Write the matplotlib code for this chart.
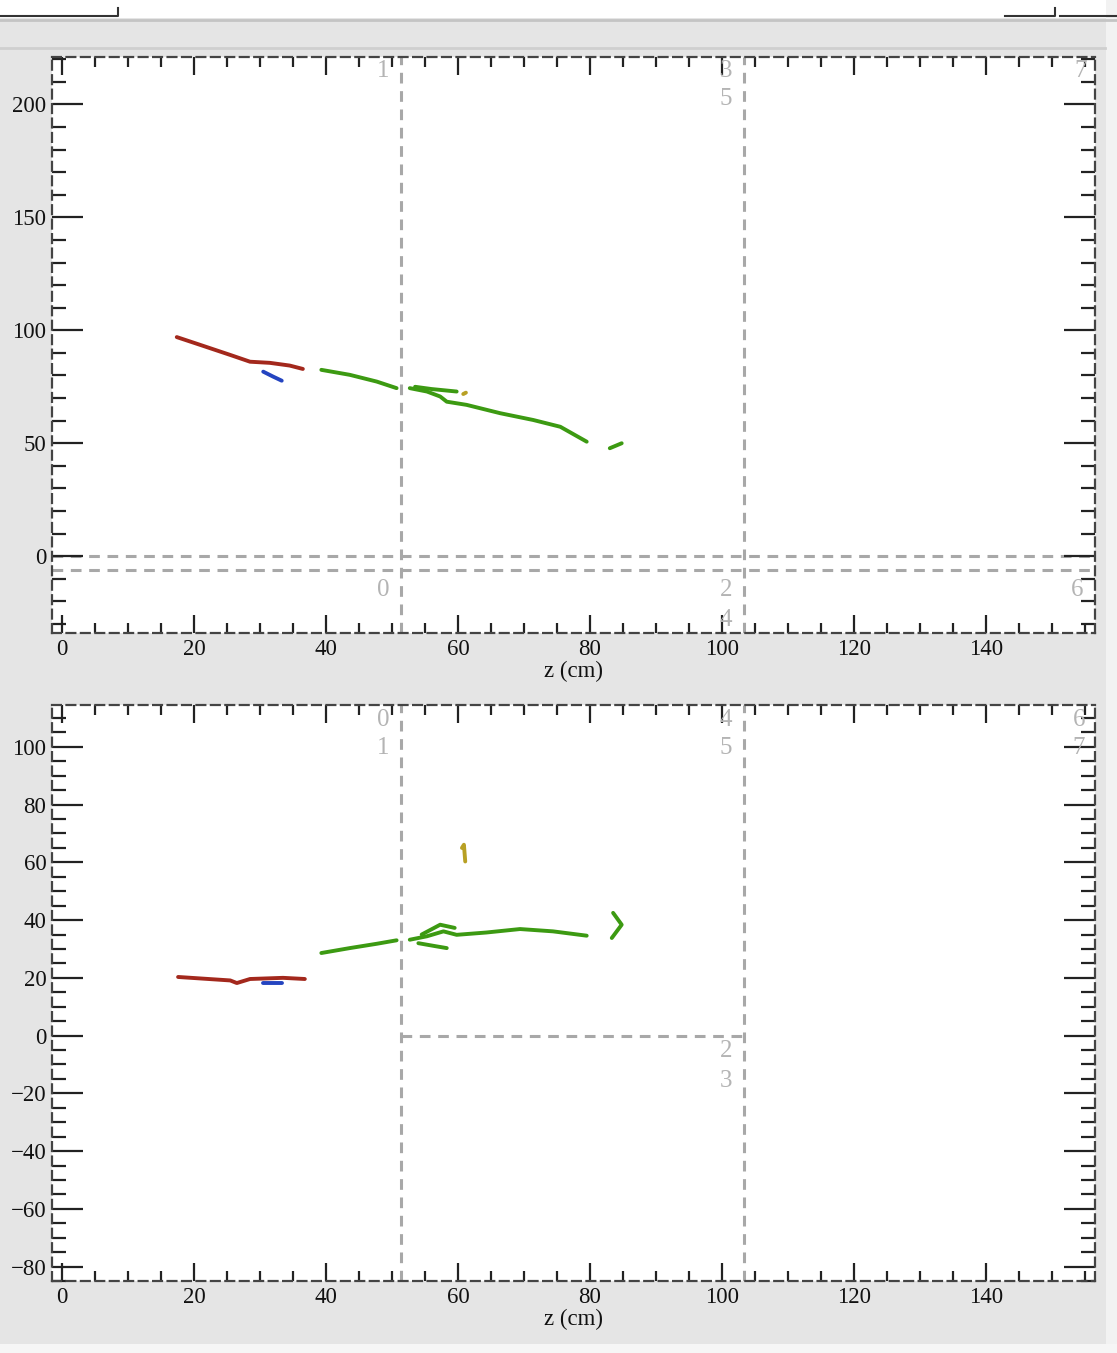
import matplotlib.pyplot as plt
from matplotlib.ticker import MultipleLocator
from matplotlib.patches import Rectangle

# ---- track data read from the display (z in cm) ----
# top view
top_red_z = [17.4, 20.9, 25.5, 28.5, 31.5, 34.5, 36.5]
top_red_y = [97.0, 93.6, 89.1, 86.1, 85.6, 84.4, 82.9]
top_blue_z = [30.5, 32.0, 33.3]
top_blue_y = [81.7, 79.5, 77.7]
top_green_a_z = [39.3, 43.6, 47.7, 50.7]
top_green_a_y = [82.5, 80.3, 77.3, 74.4]
top_green_b_z = [52.7, 55.3, 57.3, 58.3, 61.3, 66.4, 71.4, 75.5, 79.5]
top_green_b_y = [74.4, 72.9, 70.7, 68.4, 67.0, 63.3, 60.3, 57.3, 50.7]
top_green_br_z = [53.5, 56.0, 59.8]
top_green_br_y = [75.0, 74.0, 72.9]
top_green_c_z = [83.0, 84.8]
top_green_c_y = [47.8, 50.0]
top_yellow_z = [60.8, 61.2]
top_yellow_y = [71.8, 72.4]

# side view
bot_red_z = [17.6, 25.5, 26.5, 28.5, 33.5, 36.8]
bot_red_y = [20.3, 19.1, 18.2, 19.6, 20.0, 19.6]
bot_blue_z = [30.5, 33.3]
bot_blue_y = [18.2, 18.2]
bot_green_a_z = [39.3, 43.6, 47.7, 50.7]
bot_green_a_y = [28.6, 30.3, 31.8, 33.0]
bot_green_b_z = [52.7, 55.3, 57.8, 59.8, 64.3, 69.4, 74.4, 79.5]
bot_green_b_y = [33.2, 34.4, 36.1, 34.9, 35.7, 36.9, 36.1, 34.6]
bot_green_br1_z = [54.0, 56.5, 58.3]
bot_green_br1_y = [32.0, 31.0, 30.3]
bot_green_br2_z = [54.5, 57.3, 59.5]
bot_green_br2_y = [35.0, 38.4, 37.3]
bot_green_c_z = [83.5, 84.8, 83.3]
bot_green_c_y = [42.5, 38.4, 33.8]
bot_yellow_z = [60.6, 60.9, 61.1]
bot_yellow_y = [65.0, 66.1, 60.3]

# module boundaries and labels
mod_z = [51.4, 103.3]
top_hlines = [0, -6.2]
top_mod_labels = [('1', 49.6, 214.6), ('3', 101.5, 214.6), ('5', 101.5, 202.2),
                  ('7', 155.2, 214.6), ('0', 49.6, -15.0), ('2', 101.5, -15.0),
                  ('4', 101.5, -28.4), ('6', 154.8, -15.0)]
bot_mod_labels = [('0', 49.6, 109.3), ('1', 49.6, 99.7), ('4', 101.5, 109.3),
                  ('5', 101.5, 99.7), ('6', 155.0, 109.3), ('7', 155.0, 99.7),
                  ('2', 101.5, -5.5), ('3', 101.5, -15.9)]

RED = '#a3281c'
BLUE = '#2444c0'
GREEN = '#3c9a12'
YELLOW = '#b8a024'
GUIDE = '#a8a8a8'

plt.rcParams['font.family'] = ['Liberation Serif', 'DejaVu Serif']

fig = plt.figure(figsize=(11.17, 13.53), dpi=100, facecolor='#e5e5e5')

# window chrome
fig.patches.append(Rectangle((0, 1 - 18 / 1353), 1, 18 / 1353, transform=fig.transFigure,
                             facecolor='white', edgecolor='none', zorder=0))
fig.add_artist(plt.Line2D([0, 1], [1 - 20 / 1353] * 2, transform=fig.transFigure,
                          color='#c4c4c4', lw=2))
fig.add_artist(plt.Line2D([0, 1105 / 1117], [1 - 48 / 1353] * 2, transform=fig.transFigure,
                          color='#cfcfcf', lw=2))
fig.add_artist(plt.Line2D([0, 0.0, 118 / 1117, 118 / 1117], [1 - 16 / 1353] * 3 + [1 - 8 / 1353],
                          transform=fig.transFigure, color='#333333', lw=1.5))
fig.add_artist(plt.Line2D([1005 / 1117, 1055 / 1117, 1055 / 1117], [1 - 16 / 1353] * 2 + [1 - 8 / 1353],
                          transform=fig.transFigure, color='#333333', lw=1.5))
fig.add_artist(plt.Line2D([1060 / 1117, 1117 / 1117], [1 - 16 / 1353] * 2,
                          transform=fig.transFigure, color='#333333', lw=1.5))
fig.patches.append(Rectangle((1106 / 1117, 0), 11 / 1117, 1, transform=fig.transFigure,
                             facecolor='#f2f2f2', edgecolor='none', zorder=0))
fig.patches.append(Rectangle((0, 0), 1, 9 / 1353, transform=fig.transFigure,
                             facecolor='#f6f6f6', edgecolor='none', zorder=0))

ax1 = fig.add_axes([52 / 1117, 1 - 633 / 1353, 1043 / 1117, 576 / 1353])
ax2 = fig.add_axes([52 / 1117, 1 - 1281 / 1353, 1043 / 1117, 576 / 1353])


def style(ax, ylim, ymajor, yminor):
    ax.set_xlim(-1.5, 156.5)
    ax.set_ylim(*ylim)
    ax.xaxis.set_major_locator(MultipleLocator(20))
    ax.xaxis.set_minor_locator(MultipleLocator(5))
    ax.yaxis.set_major_locator(MultipleLocator(ymajor))
    ax.yaxis.set_minor_locator(MultipleLocator(yminor))
    ax.tick_params(axis='both', which='both', direction='in', top=True, right=True,
                   color='#222222', width=1.6, labelsize=16.5, labelcolor='#111111')
    ax.tick_params(axis='x', which='major', length=13, pad=4)
    ax.tick_params(axis='x', which='minor', length=7)
    ax.tick_params(axis='y', which='major', length=22, pad=4)
    ax.tick_params(axis='y', which='minor', length=10)
    for s in ax.spines.values():
        s.set_linestyle((0, (4, 2.5)))
        s.set_color('#444444')
        s.set_linewidth(1.6)
    ax.set_xlabel('z (cm)', fontsize=16.5, color='#111111', labelpad=1)


def guide_v(ax, z):
    lo, hi = ax.get_ylim()
    ax.plot([z, z], [lo, hi], color=GUIDE, lw=2.2, ls=(0, (3.5, 2.5)), zorder=1)


def track(ax, z, y, c):
    ax.plot(z, y, color=c, lw=2.8, solid_capstyle='round', zorder=3)


style(ax1, (-34, 221), 50, 10)
style(ax2, (-85, 114.5), 20, 5)

# top panel guides
for z in mod_z:
    guide_v(ax1, z)
for y in top_hlines:
    ax1.plot([-1.5, 156.5], [y, y], color=GUIDE, lw=2.2, ls=(0, (3.5, 2.5)), zorder=1)
for t, z, y in top_mod_labels:
    ax1.text(z, y, t, ha='right', va='center', fontsize=18, color='#b4b4b4')

# bottom panel guides
for z in mod_z:
    guide_v(ax2, z)
ax2.plot([mod_z[0], mod_z[1]], [0, 0], color=GUIDE, lw=2.2, ls=(0, (3.5, 2.5)), zorder=1)
for t, z, y in bot_mod_labels:
    ax2.text(z, y, t, ha='right', va='center', fontsize=18, color='#b4b4b4')

# tracks
track(ax1, top_red_z, top_red_y, RED)
track(ax1, top_blue_z, top_blue_y, BLUE)
track(ax1, top_green_a_z, top_green_a_y, GREEN)
track(ax1, top_green_b_z, top_green_b_y, GREEN)
track(ax1, top_green_br_z, top_green_br_y, GREEN)
track(ax1, top_green_c_z, top_green_c_y, GREEN)
track(ax1, top_yellow_z, top_yellow_y, YELLOW)

track(ax2, bot_red_z, bot_red_y, RED)
track(ax2, bot_blue_z, bot_blue_y, BLUE)
track(ax2, bot_green_a_z, bot_green_a_y, GREEN)
track(ax2, bot_green_b_z, bot_green_b_y, GREEN)
track(ax2, bot_green_br1_z, bot_green_br1_y, GREEN)
track(ax2, bot_green_br2_z, bot_green_br2_y, GREEN)
track(ax2, bot_green_c_z, bot_green_c_y, GREEN)
track(ax2, bot_yellow_z, bot_yellow_y, YELLOW)

fig.savefig('out.png', dpi=100, facecolor=fig.get_facecolor())
